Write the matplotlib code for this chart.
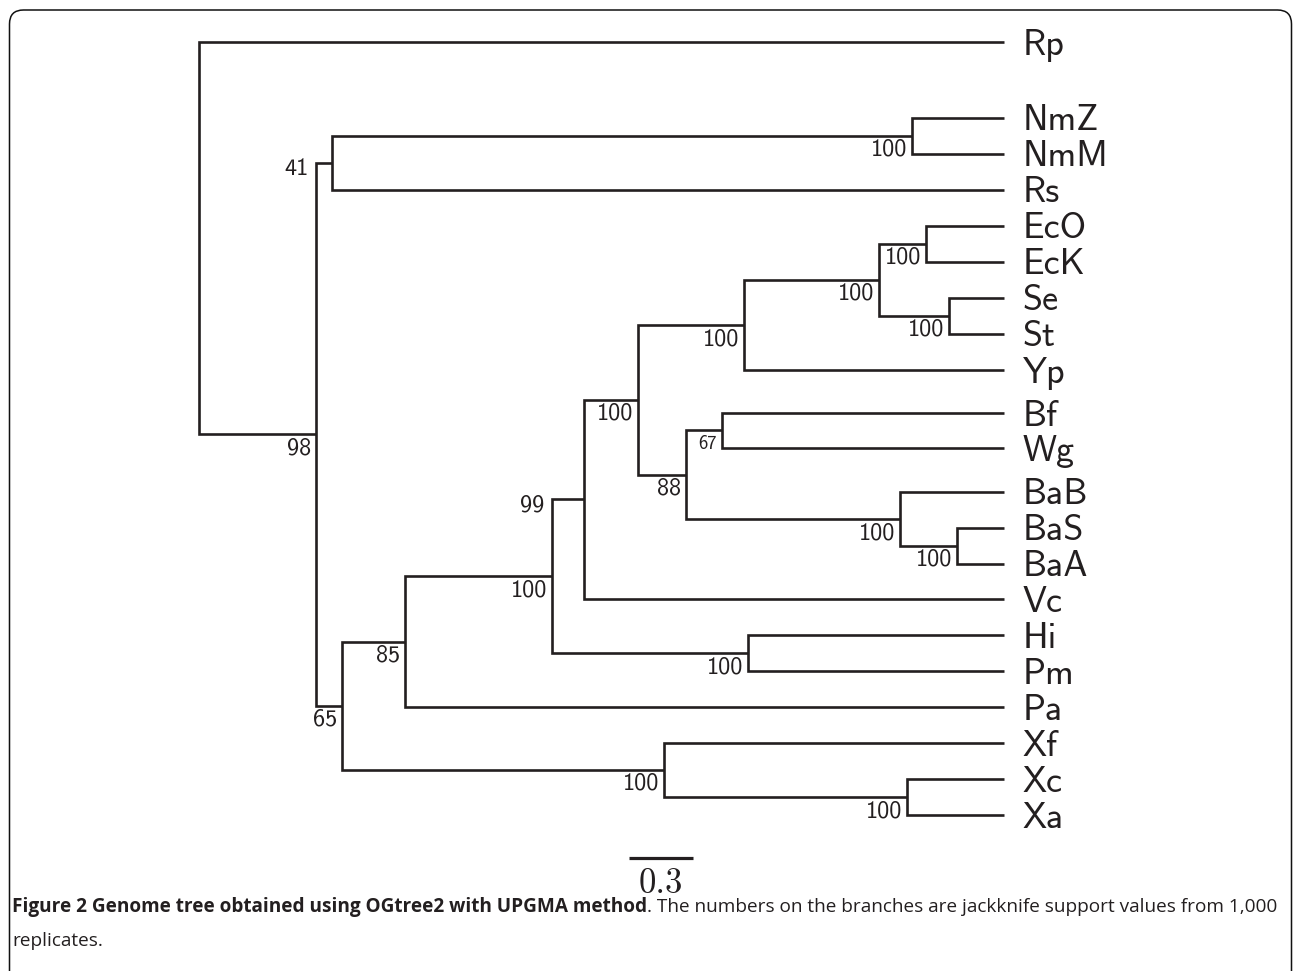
import matplotlib.pyplot as plt
from matplotlib.patches import FancyBboxPatch
from matplotlib.transforms import IdentityTransform

# leaves, top to bottom
taxa = ['Rp', 'NmZ', 'NmM', 'Rs', 'EcO', 'EcK', 'Se', 'St', 'Yp', 'Bf', 'Wg',
        'BaB', 'BaS', 'BaA', 'Vc', 'Hi', 'Pm', 'Pa', 'Xf', 'Xc', 'Xa']
# vertical slot of each leaf (layout, pixels from top)
leaf_row_px = [42, 118, 154, 190, 226, 262, 298, 334, 370, 413, 448,
               492, 528, 564, 599, 635, 671, 707, 743, 779, 815]

# UPGMA merges: node, child 1, child 2, node height, jackknife support
node_names = ['n1', 'n2', 'n3', 'n4', 'n5', 'n6', 'n7', 'n8', 'n9', 'n10',
              'n11', 'n12', 'n13', 'n14', 'n15', 'n16', 'n17', 'n18', 'n19', 'root']
child_a = ['NmZ', 'n1', 'EcO', 'Se', 'n3', 'n5', 'Bf', 'BaS', 'BaB', 'n7',
           'n6', 'n11', 'Hi', 'n12', 'n14', 'Xc', 'Xf', 'n15', 'n2', 'Rp']
child_b = ['NmM', 'Rs', 'EcK', 'St', 'n4', 'Yp', 'Wg', 'BaA', 'n8', 'n9',
           'n10', 'Vc', 'Pm', 'n13', 'Pa', 'Xa', 'n16', 'n17', 'n18', 'n19']
heights = [0.431, 3.150, 0.366, 0.258, 0.586, 1.219, 1.322, 0.220, 0.488, 1.491,
           1.716, 1.969, 1.200, 2.119, 2.808, 0.455, 1.594, 3.104, 3.225, 3.774]
support = ['100', '41', '100', '100', '100', '100', '67', '100', '100', '88',
           '100', '99', '100', '100', '85', '100', '100', '65', '98', '']

scale_len = 0.3
caption_bold = 'Figure 2 Genome tree obtained using OGtree2 with UPGMA method'
caption_rest = '. The numbers on the branches are jackknife support values from 1,000'
caption_line2 = 'replicates.'

ink = '#231f20'
W, H = 1293, 971
fig = plt.figure(figsize=(W / 100, H / 100), dpi=100)
ax = fig.add_axes([0, 0, 1, 1])
ax.set_xlim(1004 / 213.33, (1004 - W) / 213.33)
ax.set_ylim(H, 0)
ax.axis('off')

h = {t: 0.0 for t in taxa}
y = dict(zip(taxa, leaf_row_px))
parent = {}
for n, a, b, hg in zip(node_names, child_a, child_b, heights):
    h[n] = hg
    y[n] = (y[a] + y[b]) / 2
    parent[a] = n
    parent[b] = n

for n, a, b in zip(node_names, child_a, child_b):
    ax.plot([h[a], h[n], h[n], h[b]], [y[a], y[a], y[b], y[b]], color=ink, lw=1.9,
            solid_joinstyle='miter', solid_capstyle='butt')

for t in taxa:
    ax.annotate(t, (0, y[t]), xytext=(13.5, -9), textcoords='offset points',
                family='cmss10', fontsize=26, color=ink, ha='left', va='baseline')

for n, s in zip(node_names, support):
    if not s:
        continue
    if n in ('n2', 'n12'):
        # short branches: label sits left of the parent line
        ax.annotate(s, (h[parent[n]], y[n]), xytext=(-5.5, -8.6), textcoords='offset points',
                    family='cmss10', fontsize=17.5, color=ink, ha='right', va='baseline')
    elif n == 'n7':
        ax.annotate(s, (h[n], y[n]), xytext=(-3.6, -13), textcoords='offset points',
                    family='cmss10', fontsize=13.5, color=ink, ha='right', va='baseline')
    else:
        ax.annotate(s, (h[n], y[n]), xytext=(-3.6, -14.4), textcoords='offset points',
                    family='cmss10', fontsize=17.5, color=ink, ha='right', va='baseline')

# scale bar
sx = (1004 - 629) / 213.33
ax.plot([sx, sx - scale_len], [858, 858], color=ink, lw=2.3, solid_capstyle='butt')
ax.text(sx - scale_len / 2, 884, '0.3', family='cmr10', fontsize=25, color=ink,
        ha='center', va='center')

# caption: bold lead-in, then the rest on the same baseline
cap_font = ['Open Sans', 'DejaVu Sans']
cap_size = 13.7
base1 = 1 - 912 / H
t1 = fig.text(12 / W, base1, caption_bold, family=cap_font, fontweight='bold',
              fontsize=cap_size, color=ink, ha='left', va='baseline')
fig.canvas.draw()
x_end = t1.get_window_extent().x1 / W
fig.text(x_end, base1, caption_rest, family=cap_font, fontsize=cap_size,
         color=ink, ha='left', va='baseline')
fig.text(12 / W, 1 - 946 / H, caption_line2, family=cap_font, fontsize=cap_size,
         color=ink, ha='left', va='baseline')

# rounded frame around the figure
frame = FancyBboxPatch((9.5, -40), 1282, H - 10 - (-40), boxstyle='round,pad=0,rounding_size=14',
                       transform=IdentityTransform(), fill=False, edgecolor='#111111', lw=1.1)
fig.add_artist(frame)

fig.savefig('out.png', dpi=100)
